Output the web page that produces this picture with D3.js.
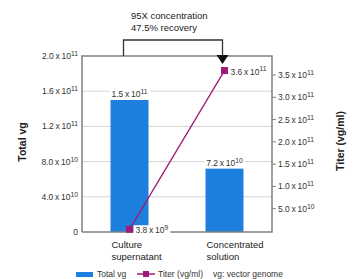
<!DOCTYPE html>
<html>
<head>
<meta charset="utf-8">
<script src="https://cdn.jsdelivr.net/npm/d3@7"></script>
<style>
  body { margin: 0; background: #fff; }
  svg { font-family: "Liberation Sans", Arial, sans-serif; }
</style>
</head>
<body>
<div id="chart"></div>
<script>
// Data
const categories = [["Culture", "supernatant"], ["Concentrated", "solution"]];
const totalVg = [1.5e11, 7.2e10];
const titer = [3.8e9, 3.6e11];
const leftTicks = [0, 4e10, 8e10, 1.2e11, 1.6e11, 2.0e11];
const rightTicks = [5e10, 1e11, 1.5e11, 2e11, 2.5e11, 3e11, 3.5e11];
const noteLines = ["95X concentration", "47.5% recovery"];

const width = 353, height = 279;
const margin = { top: 56, right: 81, bottom: 47, left: 82 };
const barColor = "#1e80de";
const lineColor = "#a01a78";
const axisColor = "#808080";

const svg = d3.select("#chart").append("svg")
    .attr("width", width)
    .attr("height", height);

const x = d3.scaleBand()
    .domain(d3.range(categories.length))
    .range([margin.left, width - margin.right])
    .paddingInner(0.6)
    .paddingOuter(0.3);

const yLeft = d3.scaleLinear().domain([0, 2e11]).range([height - margin.bottom, margin.top]);
const yRight = d3.scaleLinear().domain([0, 3.5e11]).range([height - margin.bottom - 1, 75]);

// write "m.m x 10^e" with a real superscript
function sci(sel, v) {
    if (v === 0) { sel.text("0"); return; }
    const e = Math.floor(Math.log10(v));
    const m = (v / Math.pow(10, e)).toFixed(1);
    sel.text(null);
    sel.append("tspan").text(m + "\u2009x\u200910");
    sel.append("tspan").attr("dy", "-0.45em").attr("font-size", "0.8em").text(e);
}

// white box behind a text so lines seem to stop at it
function knockout(textSel, pad) {
    textSel.each(function () {
        const b = this.getBBox();
        d3.select(this.parentNode).insert("rect", () => this)
            .attr("x", b.x - pad).attr("y", b.y + 1)
            .attr("width", b.width + 2 * pad).attr("height", b.height - 1)
            .attr("fill", "#fff");
    });
}

const x0 = margin.left, x1 = width - margin.right;
const yb = height - margin.bottom, yt = margin.top;

// gridlines
svg.append("g").selectAll("line")
    .data(leftTicks.filter(d => d > 0 && d < 2e11))
    .join("line")
    .attr("x1", x0).attr("x2", x1)
    .attr("y1", d => yLeft(d)).attr("y2", d => yLeft(d))
    .attr("stroke", "#d4d4d4").attr("stroke-width", 1);

// bars
svg.append("g").selectAll("rect")
    .data(totalVg)
    .join("rect")
    .attr("x", (d, i) => x(i))
    .attr("y", d => yLeft(d))
    .attr("width", x.bandwidth())
    .attr("height", d => yb - yLeft(d))
    .attr("fill", barColor);

// plot frame
svg.append("path")
    .attr("d", `M${x0},${yb}V${yt}H${x1}V${yb}H${x0}`)
    .attr("fill", "none")
    .attr("stroke", axisColor)
    .attr("stroke-width", 1.5);

// left axis labels
const leftG = svg.append("g").attr("font-size", 8.5).attr("fill", "#333");
leftG.selectAll("text")
    .data(leftTicks)
    .join("text")
    .attr("x", x0 - 4)
    .attr("y", d => yLeft(d) + 3)
    .attr("text-anchor", "end")
    .each(function (d) { sci(d3.select(this), d); });

// right axis ticks and labels
const rightG = svg.append("g").attr("font-size", 8.5).attr("fill", "#333");
rightG.selectAll("line")
    .data(rightTicks)
    .join("line")
    .attr("x1", x1).attr("x2", x1 + 4)
    .attr("y1", d => yRight(d)).attr("y2", d => yRight(d))
    .attr("stroke", axisColor).attr("stroke-width", 1);
rightG.selectAll("text")
    .data(rightTicks)
    .join("text")
    .attr("x", x1 + 6)
    .attr("y", d => yRight(d) + 3)
    .each(function (d) { sci(d3.select(this), d); });

// axis titles
svg.append("text")
    .attr("transform", `translate(26,142) rotate(-90)`)
    .attr("text-anchor", "middle")
    .attr("font-size", 10.5).attr("font-weight", "bold").attr("fill", "#222")
    .text("Total vg");
svg.append("text")
    .attr("transform", `translate(344,141) rotate(-90)`)
    .attr("text-anchor", "middle")
    .attr("font-size", 10.5).attr("font-weight", "bold").attr("fill", "#222")
    .text("Titer (vg/ml)");

// category labels
svg.append("g").selectAll("text")
    .data(categories)
    .join("text")
    .attr("x", (d, i) => x(i) + 1)
    .attr("y", yb + 16)
    .attr("font-size", 9.5).attr("fill", "#222")
    .each(function (d) {
        d3.select(this).selectAll("tspan").data(d).join("tspan")
            .attr("x", d3.select(this).attr("x"))
            .attr("dy", (t, j) => j ? 12 : 0)
            .text(t => t);
    });

// bar value labels
const barLab = svg.append("g").attr("font-size", 8.5).attr("fill", "#333");
barLab.selectAll("text")
    .data(totalVg)
    .join("text")
    .attr("x", (d, i) => x(i) + x.bandwidth() / 2)
    .attr("y", d => yLeft(d) - 3)
    .attr("text-anchor", "middle")
    .each(function (d) { sci(d3.select(this), d); });
knockout(barLab.selectAll("text"), 2);

// titer line
const cx = i => x(i) + x.bandwidth() / 2;
svg.append("path")
    .datum(titer)
    .attr("d", d3.line().x((d, i) => cx(i)).y(d => yRight(d)))
    .attr("fill", "none")
    .attr("stroke", lineColor)
    .attr("stroke-width", 1.3);
svg.append("g").selectAll("rect")
    .data(titer)
    .join("rect")
    .attr("x", (d, i) => cx(i) - 3.5)
    .attr("y", d => yRight(d) - 3.5)
    .attr("width", 7).attr("height", 7)
    .attr("fill", lineColor);

// titer value labels
const titLab = svg.append("g").attr("font-size", 8.5).attr("fill", "#333");
titLab.selectAll("text")
    .data(titer)
    .join("text")
    .attr("x", (d, i) => cx(i) + 6)
    .attr("y", d => yRight(d) + 4)
    .each(function (d) { sci(d3.select(this), d); });
knockout(titLab.selectAll("text"), 2);

// bracket with arrow from first to second sample
const bx1 = cx(0) - 6, bx2 = cx(1) - 2, by = 40;
svg.append("path")
    .attr("d", `M${bx1},${yt}V${by}H${bx2}V${yt - 1}`)
    .attr("fill", "none")
    .attr("stroke", "#333")
    .attr("stroke-width", 1.3);
svg.append("path")
    .attr("d", `M${bx2 - 6},${yt - 1}L${bx2 + 6},${yt - 1}L${bx2},${yt + 8}Z`)
    .attr("fill", "#111");
svg.append("g").selectAll("text")
    .data(noteLines)
    .join("text")
    .attr("x", 131)
    .attr("y", (d, i) => 19 + i * 12)
    .attr("font-size", 9.5).attr("fill", "#222")
    .text(d => d);

// legend
const lg = svg.append("g").attr("font-size", 8.5).attr("fill", "#333");
const ly = 274;
lg.append("rect").attr("x", 76).attr("y", ly - 2).attr("width", 17).attr("height", 5).attr("fill", barColor);
lg.append("text").attr("x", 97).attr("y", ly + 3).text("Total vg");
lg.append("line").attr("x1", 137).attr("x2", 155).attr("y1", ly).attr("y2", ly)
    .attr("stroke", lineColor).attr("stroke-width", 1.5);
lg.append("rect").attr("x", 143).attr("y", ly - 3).attr("width", 6).attr("height", 6).attr("fill", lineColor);
lg.append("text").attr("x", 158).attr("y", ly + 3).text("Titer (vg/ml)");
lg.append("text").attr("x", 213).attr("y", ly + 3).text("vg: vector genome");
</script>
</body>
</html>
